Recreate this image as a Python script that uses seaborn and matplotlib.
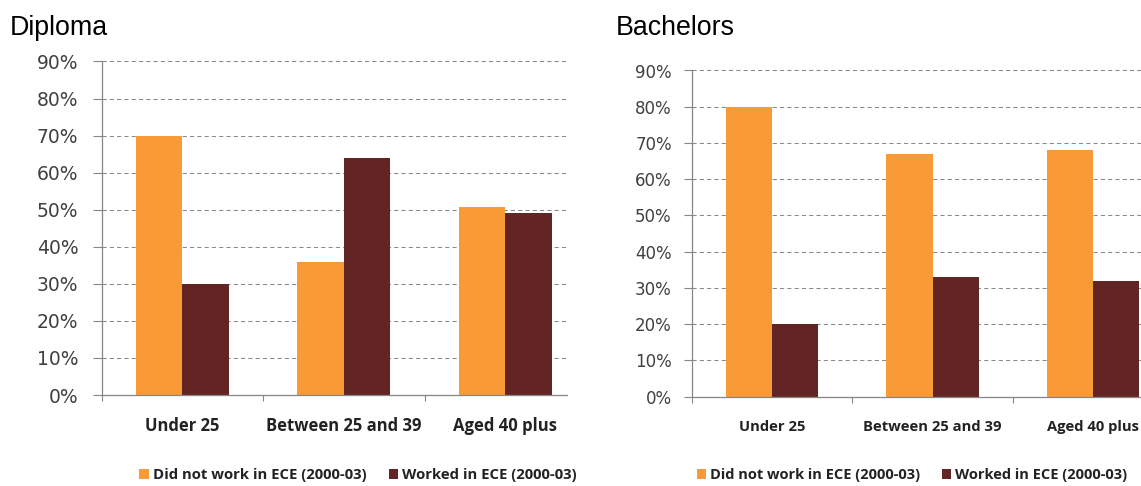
import matplotlib
matplotlib.use("Agg")
import matplotlib.pyplot as plt
import seaborn as sns
import pandas as pd
from matplotlib.ticker import PercentFormatter, FixedLocator

# ---- data ----
categories = ["Under 25", "Between 25 and 39", "Aged 40 plus"]
series_names = ["Did not work in ECE (2000-03)", "Worked in ECE (2000-03)"]
diploma_not_worked = [0.70, 0.36, 0.507]
diploma_worked = [0.30, 0.64, 0.49]
bachelors_not_worked = [0.80, 0.67, 0.68]
bachelors_worked = [0.20, 0.33, 0.32]
panel_titles = ["Diploma", "Bachelors"]
y_ticks = [0.0, 0.1, 0.2, 0.3, 0.4, 0.5, 0.6, 0.7, 0.8, 0.9]

colors = ["#FA9A36", "#632523"]


def long_frame(a, b):
    rows = []
    for cat, va, vb in zip(categories, a, b):
        rows.append({"Category": cat, "Series": series_names[0], "Value": va})
        rows.append({"Category": cat, "Series": series_names[1], "Value": vb})
    return pd.DataFrame(rows)


dfs = [long_frame(diploma_not_worked, diploma_worked),
       long_frame(bachelors_not_worked, bachelors_worked)]

sns.set_theme(style="white")
plt.rcParams["font.family"] = ["DejaVu Sans"]

W, H = 1141, 486
fig = plt.figure(figsize=(W / 100, H / 100), dpi=100)
fig.patch.set_facecolor("white")

# axes geometry in pixels: (left, right, bottom_y_from_top, top_y_from_top, cat_width)
geoms = [(101.7, 567.0, 395.0, 61.5, 161.5),
         (691.7, 1141.0, 396.5, 70.5, 160.6)]
title_x = [10, 616]
legend_cx = [358, 912]
ytick_size = [13.5, 12.0]
ytick_len = [6.8, 5.8]
ytick_pad = [10, 8.5]
xlab_size = [12.0, 10.6]
xlab_pad = [16, 17]
leg_size = [10.7, 10.5]

for i, (df, (l, r, b, t, cw)) in enumerate(zip(dfs, geoms)):
    ax = fig.add_axes([l / W, (H - b) / H, (r - l) / W, (b - t) / H])
    sns.barplot(data=df, x="Category", y="Value", hue="Series",
                hue_order=series_names, order=categories,
                palette=colors, width=0.576, saturation=1.0,
                edgecolor="none", linewidth=0, ax=ax, errorbar=None)
    ax.set_xlim(-0.5, -0.5 + (r - l) / cw)
    ax.set_ylim(0, 0.9)
    ax.set_xlabel("")
    ax.set_ylabel("")
    ax.set_facecolor("white")

    # y axis
    ax.yaxis.set_major_locator(FixedLocator(y_ticks))
    ax.yaxis.set_major_formatter(PercentFormatter(1.0, decimals=0))
    ax.tick_params(axis="y", which="major", direction="out", length=ytick_len[i],
                   width=0.8, color="#868686", pad=ytick_pad[i],
                   labelsize=ytick_size[i], labelcolor="#404040", left=True)
    ax.grid(axis="y", color="#8a8a8a", linestyle=(0, (4, 3)), linewidth=0.75)
    ax.grid(axis="x", visible=False)
    ax.set_axisbelow(True)
    for gl in ax.get_ygridlines():
        gl.set_clip_on(False)

    # x axis: labels without ticks, boundary minor ticks
    ax.tick_params(axis="x", which="major", length=0, pad=xlab_pad[i],
                   labelsize=xlab_size[i], labelcolor="#222222")
    for lab in ax.get_xticklabels():
        lab.set_fontfamily(["Open Sans", "DejaVu Sans"])
        lab.set_fontweight("bold")
    ax.xaxis.set_minor_locator(FixedLocator([-0.5, 0.5, 1.5, 2.5]))
    ax.tick_params(axis="x", which="minor", direction="out", length=4,
                   width=0.8, color="#868686", bottom=True)

    for s in ["top", "right"]:
        ax.spines[s].set_visible(False)
    for s in ["left", "bottom"]:
        ax.spines[s].set_color("#868686")
        ax.spines[s].set_linewidth(0.9)

    sns.move_legend(ax, "center", bbox_to_anchor=(legend_cx[i] / W, 11 / H),
                    bbox_transform=fig.transFigure, ncol=2, frameon=False,
                    title=None, handlelength=0.65, handleheight=0.65,
                    handletextpad=0.25, columnspacing=1.5, borderaxespad=0,
                    prop={"family": ["Open Sans", "DejaVu Sans"],
                          "weight": "bold", "size": leg_size[i]})
    for txt in ax.get_legend().get_texts():
        txt.set_color("#222222")

    fig.text(title_x[i] / W, (H - 35) / H, panel_titles[i],
             fontsize=19.3, family=["Liberation Sans", "DejaVu Sans"],
             color="black", ha="left", va="baseline")

fig.savefig("out.png", dpi=100, facecolor="white")
